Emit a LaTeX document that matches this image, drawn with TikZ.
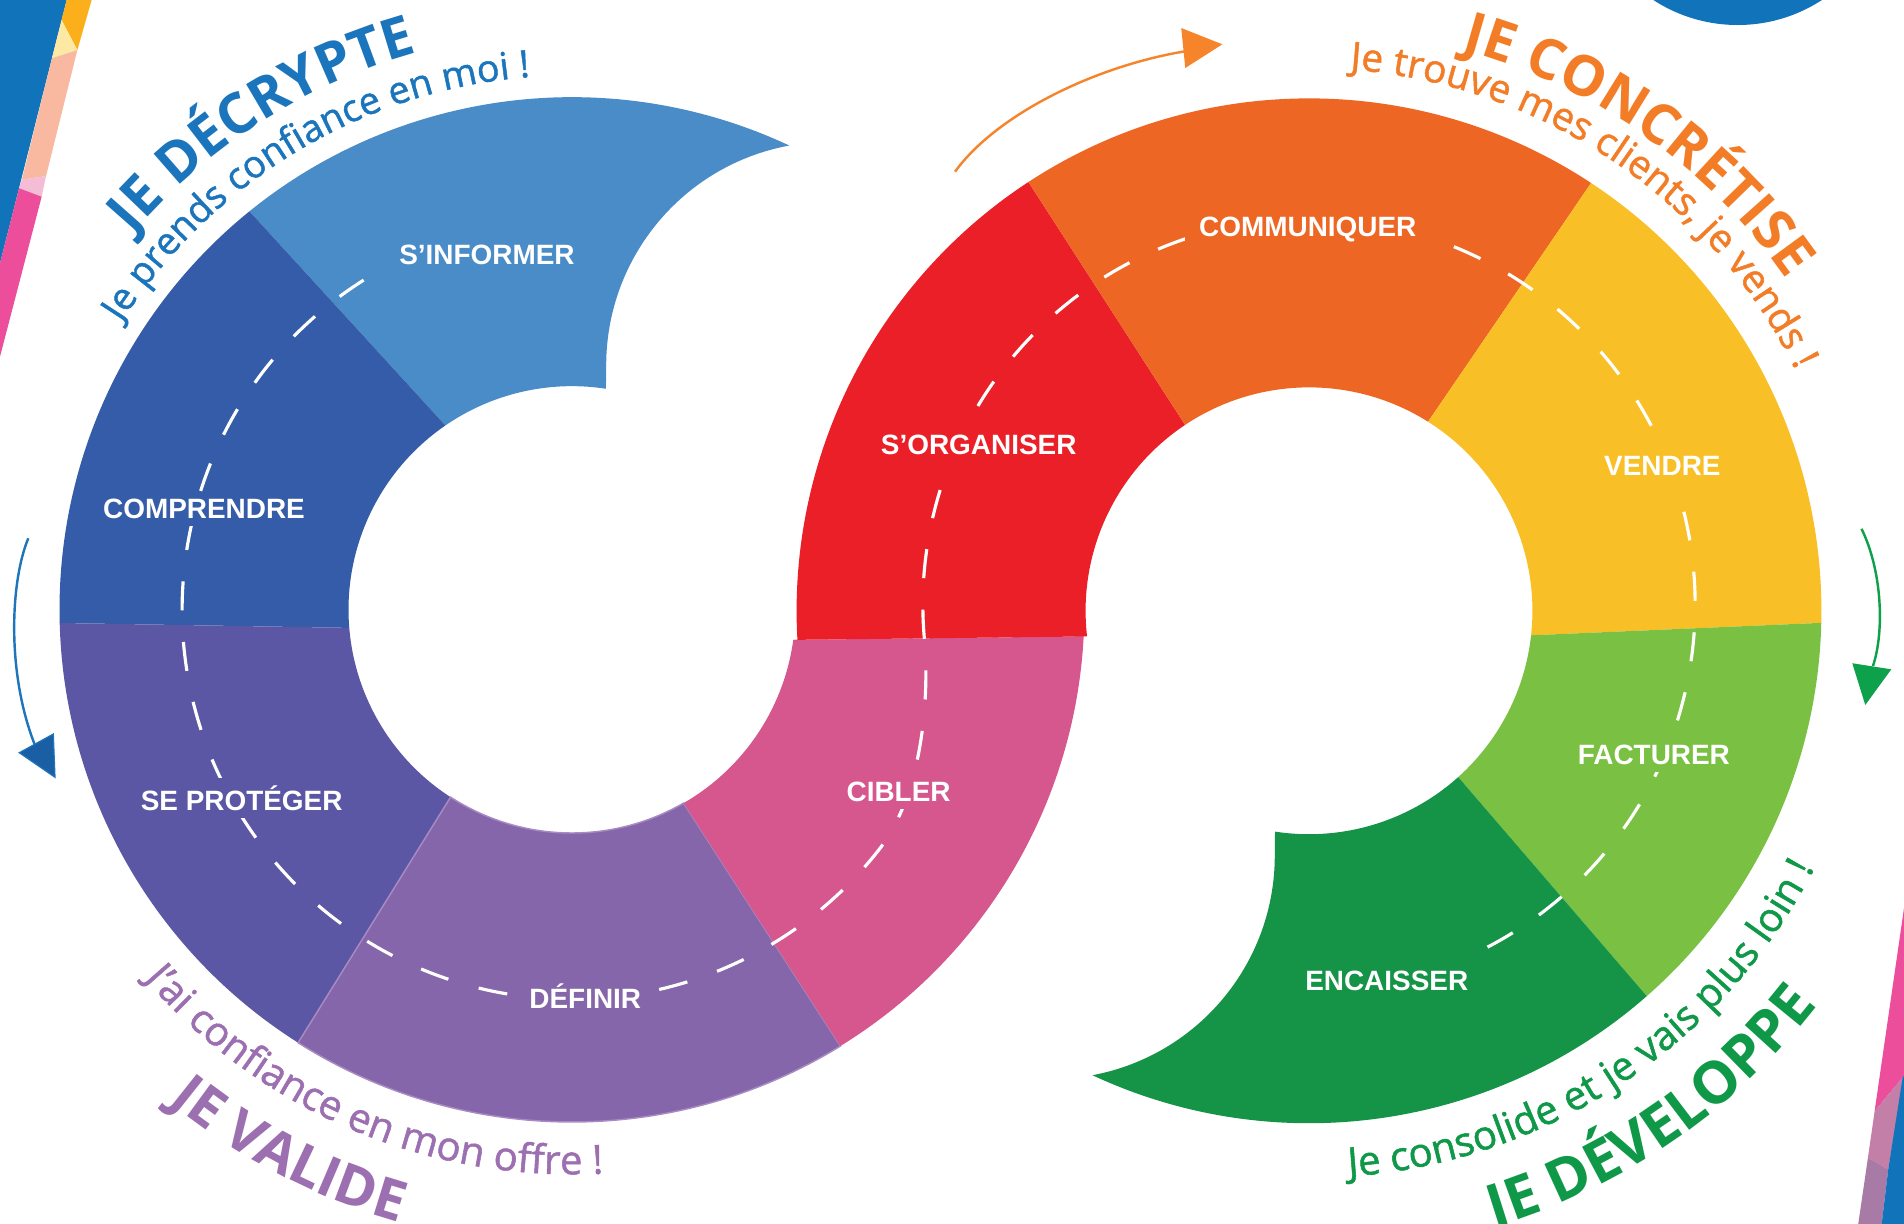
\documentclass[tikz,border=0pt]{standalone}
\usepackage{fontspec}
\setmainfont{Liberation Sans}
\newfontfamily\titlefont{Open Sans}
\newfontfamily\subfont{Open Sans}[FakeBold=1.3]
\usetikzlibrary{decorations.text}

\definecolor{cInf}{HTML}{4A8CC8}
\definecolor{cComp}{HTML}{355CA8}
\definecolor{cProt}{HTML}{5B57A5}
\definecolor{cDef}{HTML}{8566AA}
\definecolor{cDefEdge}{HTML}{A88BC2}
\definecolor{cCib}{HTML}{D6578E}
\definecolor{cOrg}{HTML}{EA1F27}
\definecolor{cCom}{HTML}{EE6623}
\definecolor{cVen}{HTML}{F8C026}
\definecolor{cFac}{HTML}{7AC143}
\definecolor{cEnc}{HTML}{159447}
\definecolor{tBlue}{HTML}{1B75BC}
\definecolor{tOrange}{HTML}{F37D27}
\definecolor{tPurple}{HTML}{9C6FB0}
\definecolor{tGreen}{HTML}{0F9848}
\definecolor{arBlue}{HTML}{1F75BC}
\definecolor{arBlueDark}{HTML}{1A5EA3}
\definecolor{arOrange}{HTML}{F6842A}
\definecolor{arGreen}{HTML}{0EA14B}
\definecolor{dBlue}{HTML}{1174BB}
\definecolor{dOrange}{HTML}{FBB01B}
\definecolor{dPale}{HTML}{FDE9A3}
\definecolor{dPeach}{HTML}{F9B8A0}
\definecolor{dLightPink}{HTML}{F5BCD6}
\definecolor{dPink}{HTML}{EC4E9C}
\definecolor{dMauve}{HTML}{C47FA8}
\definecolor{dPurple}{HTML}{A87AA6}

\begin{document}
\begin{tikzpicture}[x=1pt,y=-1pt,
  seglabel/.style={font=\bfseries\fontsize{23}{26}\selectfont, text=white, inner xsep=12pt, inner ysep=6pt},
  dashpath/.style={draw=white, line width=2.6pt, dash pattern=on 24pt off 26pt},
  arrowline/.style={line width=2pt},
  curvetext/.style={decorate, decoration={text along path, text align=center, text={#1}}}
]
\useasboundingbox (0,0) rectangle (1568,1008);
\fill[white] (0,0) rectangle (1568,1008);

\coordinate (L) at (471,502);
\coordinate (R) at (1078,503);
\coordinate (R2) at (1078,498);

% decorative corners
\begin{scope}
\clip (0,0) rectangle (1568,1008);
\fill[dBlue] (0,0) -- (54.9,0) -- (0,216.9) -- cycle;
\fill[dOrange] (54.9,0) -- (75.5,0) -- (63.7,41.2) -- (50.7,16.5) -- cycle;
\fill[dPale] (50.7,16.5) -- (63.7,41.2) -- (42.8,48) -- cycle;
\fill[dPeach] (42.8,48) -- (63.7,41.2) -- (37.9,145) -- (18,148) -- cycle;
\fill[dLightPink] (18,148) -- (37.9,145) -- (34.3,162) -- (15.7,155) -- cycle;
\fill[dPink] (15.7,155) -- (34.3,162) -- (0,293.7) -- (0,216.9) -- cycle;
\fill[dBlue] (1431,-106.6) circle[radius=127.2];
\fill[dPink] (1568,747.8) -- (1568,886) -- (1543.8,915) -- cycle;
\fill[dMauve] (1543.8,915) -- (1568,886) -- (1555,963) -- (1538.3,953.4) -- cycle;
\fill[dPurple] (1538.3,953.4) -- (1555,963) -- (1549.6,1008) -- (1530.3,1008) -- cycle;
\fill[dBlue] (1567,886.5) -- (1568,886.5) -- (1568,1008) -- (1549.6,1008) -- (1555,963) -- cycle;
\end{scope}

% left ring
\fill[cInf] ([shift={(-129:422)}]L) arc[start angle=-129, end angle=-64.9, radius=422]
  arc[start angle=-100.4, end angle=-180, radius=184]
  -- ([shift={(-81.25:184)}]L) arc[start angle=-81.25, end angle=-124.5, radius=184] -- cycle;
\fill[cComp] ([shift={(-129:422)}]L) arc[start angle=-129, end angle=-181.5, radius=422]
  -- ([shift={(-184.7:184)}]L) arc[start angle=-184.7, end angle=-124.5, radius=184] -- cycle;
\fill[cProt] ([shift={(178.5:422)}]L) arc[start angle=178.5, end angle=122.3, radius=422]
  -- ([shift={(122.9:184)}]L) arc[start angle=122.9, end angle=175.3, radius=184] -- cycle;
\filldraw[fill=cDef, draw=cDefEdge, line width=1.2pt] ([shift={(122.3:422)}]L) arc[start angle=122.3, end angle=58.4, radius=422]
  -- ([shift={(60:184)}]L) arc[start angle=60, end angle=122.9, radius=184] -- cycle;
\fill[cCib] ([shift={(58.4:422)}]L) arc[start angle=58.4, end angle=3, radius=422]
  -- ([shift={(7.8:184)}]L) arc[start angle=7.8, end angle=60, radius=184] -- cycle;

% right ring
\fill[cOrg] ([shift={(7.8:184)}]L) -- ([shift={(173.4:184)}]R) arc[start angle=173.4, end angle=236.3, radius=184]
  -- ([shift={(236.8:422)}]R) arc[start angle=236.8, end angle=176.7, radius=422] -- cycle;
\fill[cCom] ([shift={(236.8:422)}]R) arc[start angle=236.8, end angle=303.4, radius=422]
  -- ([shift={(302.2:184)}]R) arc[start angle=302.2, end angle=236.3, radius=184] -- cycle;
\fill[cVen] ([shift={(303.4:422)}]R) arc[start angle=303.4, end angle=361.35, radius=422]
  -- ([shift={(366.3:184)}]R) arc[start angle=366.3, end angle=302.2, radius=184] -- cycle;
\fill[cFac] ([shift={(361.35:422)}]R) arc[start angle=361.35, end angle=408.76, radius=422]
  -- ([shift={(408.1:184)}]R) arc[start angle=408.1, end angle=366.3, radius=184] -- cycle;
\fill[cEnc] ([shift={(48.76:422)}]R) arc[start angle=48.76, end angle=115, radius=422]
  arc[start angle=79.4, end angle=0, radius=184]
  -- ([shift={(98.75:184)}]R) arc[start angle=98.75, end angle=48.1, radius=184] -- cycle;

% dashed path
\draw[dashpath] ([shift={(237.7:321)}]L) arc[start angle=237.7, end angle=38, radius=321]
  .. controls (757.9,656.3) and (766,580.5) .. ([shift={(175:318)}]R2)
  arc[start angle=175, end angle=424, radius=318];

% labels
\node[seglabel, fill=cInf] (inf) at (401,210) {S’INFORMER};
\node[seglabel, fill=cComp] (comp) at (168,419) {COMPRENDRE};
\node[seglabel, fill=cProt] (prot) at (199,657) {SE PROTÉGER};
\node[seglabel, fill=cDef] (def) at (482,820) {DÉFINIR};
\node[seglabel, fill=cCib] (cib) at (740,652) {CIBLER};
\node[seglabel, fill=cOrg] (org) at (806,366) {S’ORGANISER};
\node[seglabel, fill=cCom] (com) at (1077,189) {COMMUNIQUER};
\node[seglabel, fill=cVen] (ven) at (1369,384) {VENDRE};
\node[seglabel, fill=cFac] (fac) at (1362,622) {FACTURER};
\node[seglabel, fill=cEnc] (enc) at (1142,808) {ENCAISSER};

% curved titles
\path[curvetext={|\titlefont\bfseries\fontsize{46}{50}\selectfont\color{tBlue}|JE DÉCRYPTE}]
  ([shift={(-152.5:476)}]L) arc[start angle=-152.5, end angle=-92.5, radius=476];
\path[curvetext={|\subfont\fontsize{31}{35}\selectfont\color{tBlue}|Je prends confiance en moi !}]
  ([shift={(-161:440)}]L) arc[start angle=-161, end angle=-81, radius=440];
\path[curvetext={|\titlefont\bfseries\fontsize{46}{50}\selectfont\color{tOrange}|JE CONCRÉTISE}]
  ([shift={(-84.75:479)}]R) arc[start angle=-84.75, end angle=-24.75, radius=479];
\path[curvetext={|\subfont\fontsize{32}{36}\selectfont\color{tOrange}|Je trouve mes clients, je vends !}]
  ([shift={(-96:447)}]R) arc[start angle=-96, end angle=-16, radius=447];
\path[curvetext={|\subfont\fontsize{33}{37}\selectfont\color{tPurple}|J’ai confiance en mon offre !}]
  ([shift={(153:465)}]L) arc[start angle=153, end angle=73, radius=465];
\path[curvetext={|\titlefont\bfseries\fontsize{46}{50}\selectfont\color{tPurple}|JE VALIDE}]
  ([shift={(147.5:524)}]L) arc[start angle=147.5, end angle=87.5, radius=524];
\path[curvetext={|\subfont\fontsize{33}{37}\selectfont\color{tGreen}|Je consolide et je vais plus loin !}]
  ([shift={(96.5:467)}]R) arc[start angle=96.5, end angle=16.5, radius=467];
\path[curvetext={|\titlefont\bfseries\fontsize{48}{52}\selectfont\color{tGreen}|JE DÉVELOPPE}]
  ([shift={(85.5:530)}]R) arc[start angle=85.5, end angle=25.5, radius=530];

% arrows
\coordinate (bA) at (23.3,443.3);
\coordinate (bB) at (31.6,620.4);
\draw[arrowline, arBlue] (bA) .. controls (8,480) and (5,560) .. (bB);
\filldraw[fill=arBlueDark, draw=arBlue, line width=1pt] (15.9,619.9) -- (43.9,604.5) -- (45.3,640.1) -- cycle;

\coordinate (oA) at (786.5,141.4);
\coordinate (oB) at (975.6,42.3);
\draw[arrowline, arOrange] (oA) .. controls (820,95) and (900,55) .. (oB);
\fill[arOrange] (972.8,23.1) -- (1006.6,36.5) -- (976.1,56) -- cycle;

\coordinate (gA) at (1533,435.5);
\coordinate (gB) at (1542.4,548.5);
\draw[arrowline, arGreen] (gA) .. controls (1550,470) and (1552,520) .. (gB);
\fill[arGreen] (1525.4,546.2) -- (1557.5,551.2) -- (1536.1,580.6) -- cycle;
\end{tikzpicture}
\end{document}
